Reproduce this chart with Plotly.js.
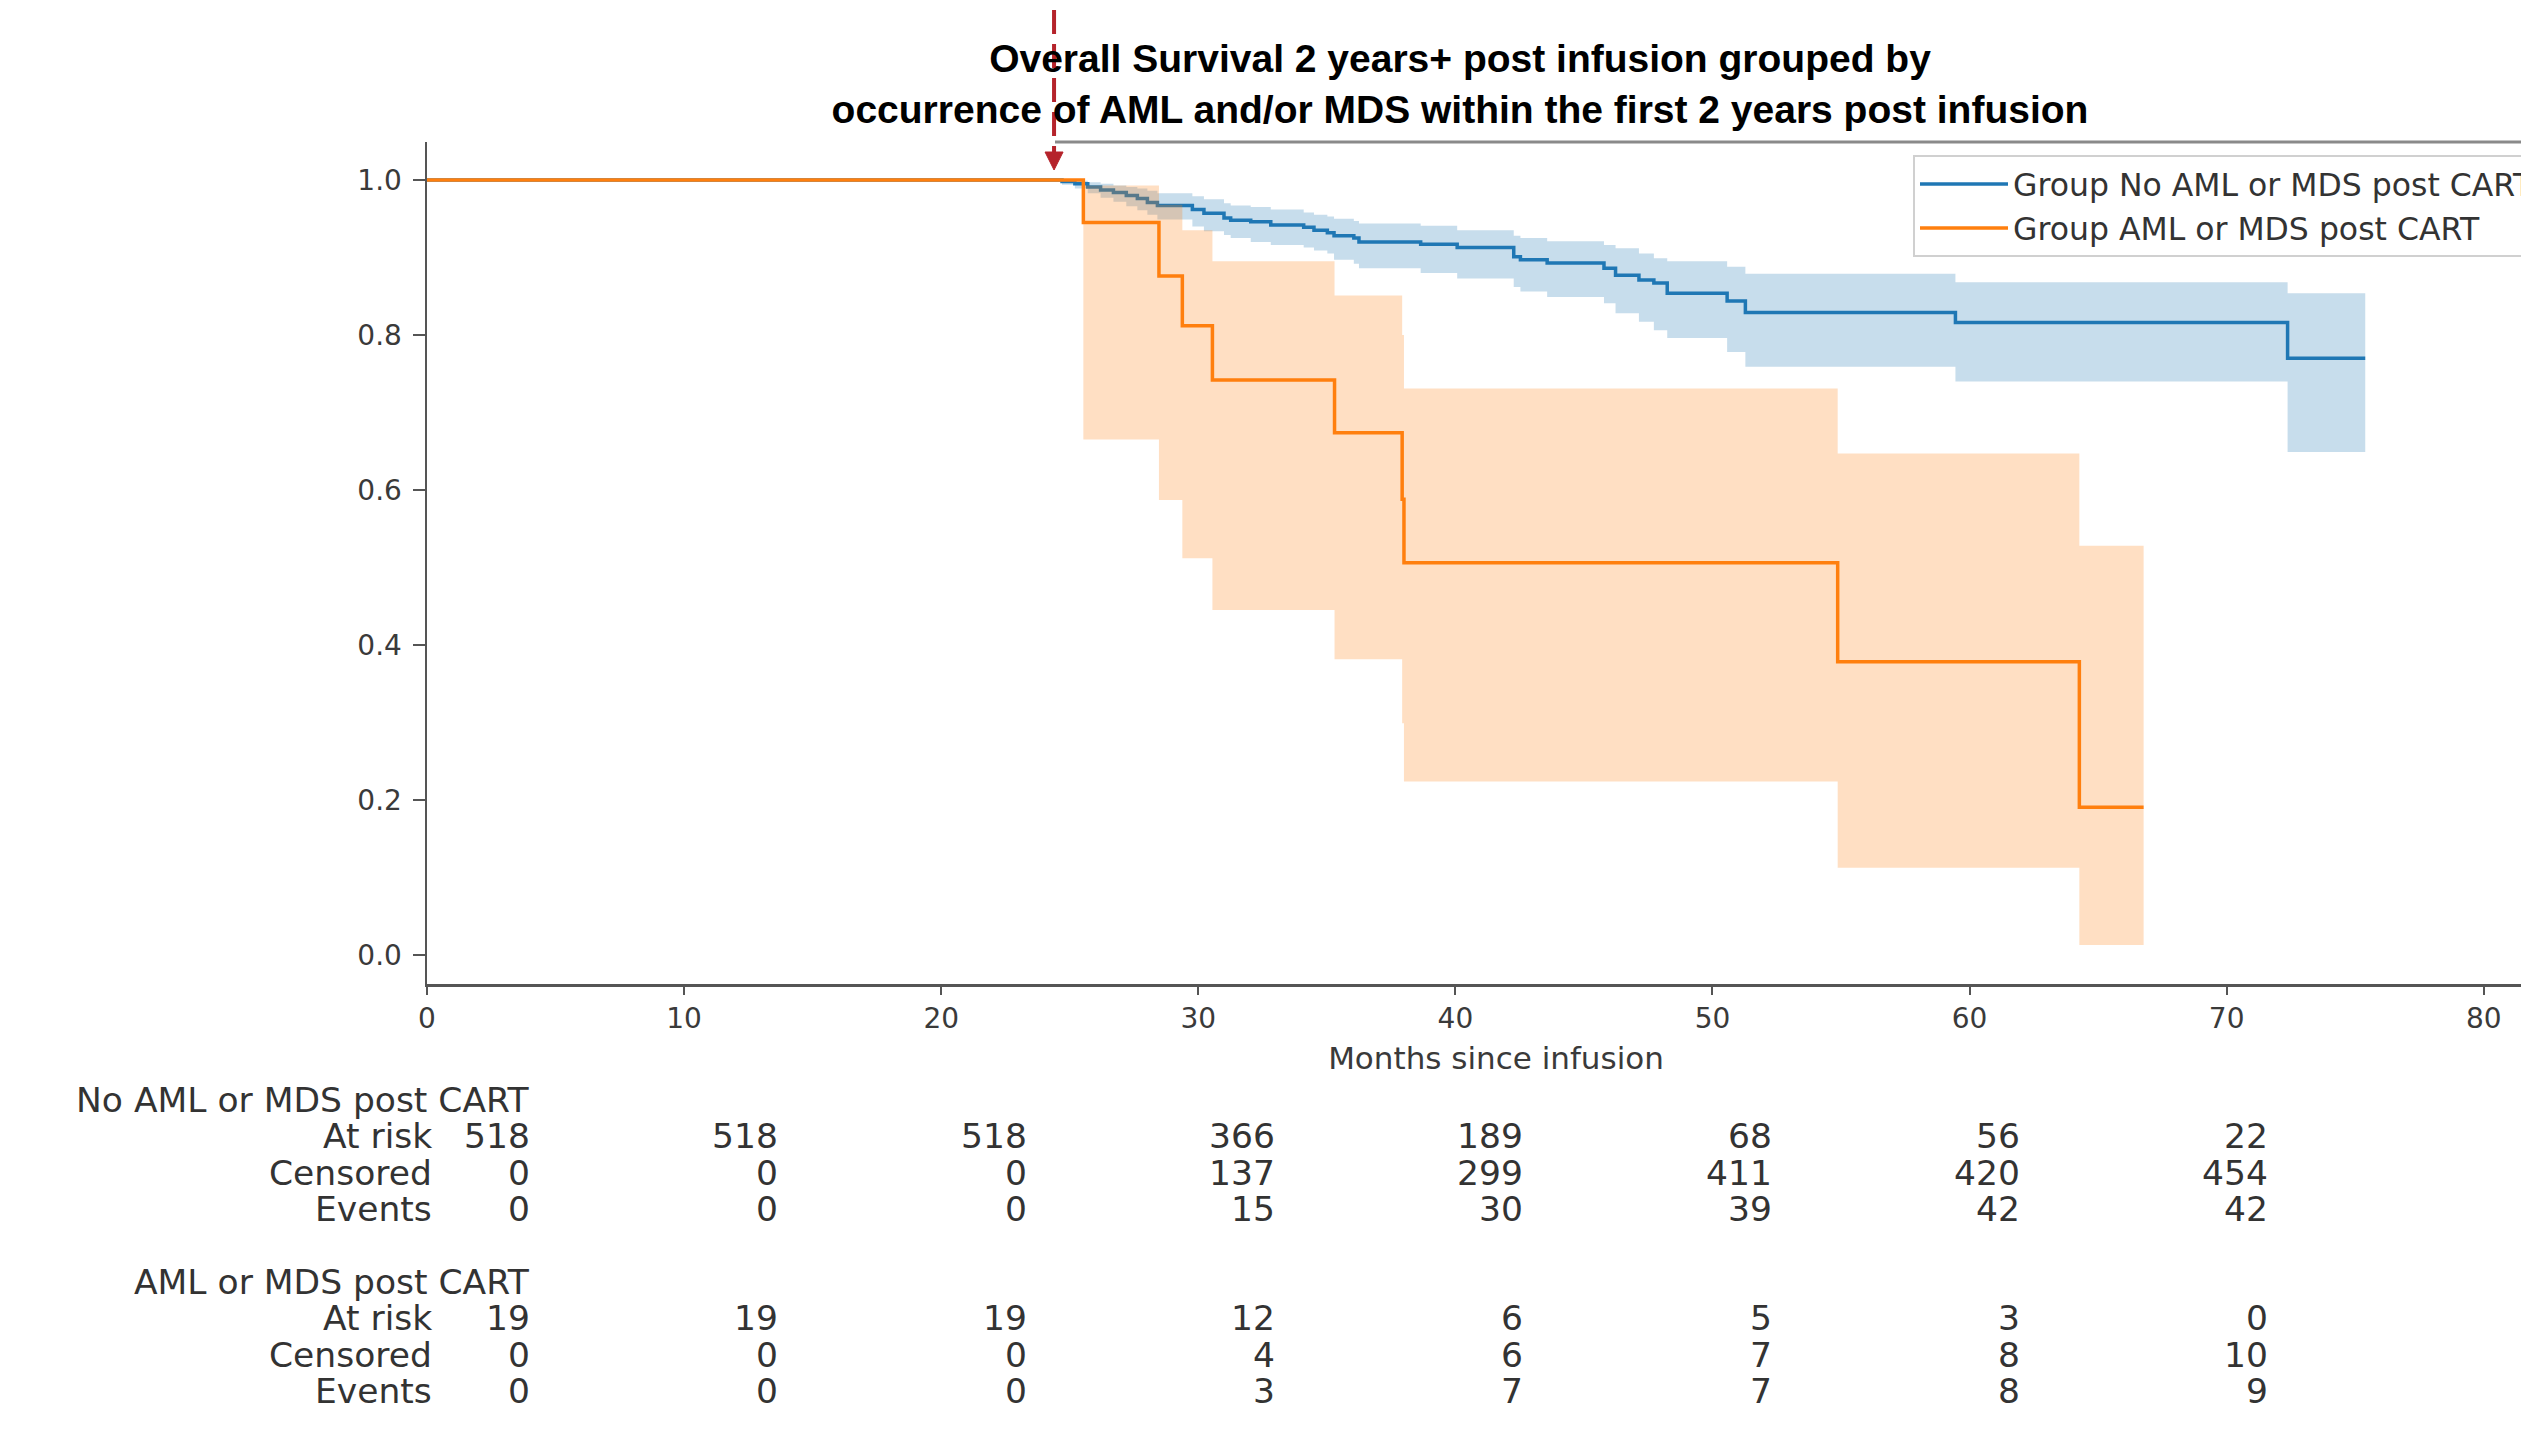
<!DOCTYPE html>
<html>
<head>
<meta charset="utf-8">
<script src="https://cdn.plot.ly/plotly-3.0.1.min.js"></script>
<style>
  html, body { margin: 0; padding: 0; overflow: hidden; background: #fff; }
  #chart { width: 2565px; height: 1432px; }
</style>
</head>
<body>
<div id="chart"></div>
<script>
// ---------------- data ----------------
// Kaplan-Meier step curve: group without AML/MDS post CART
const noAmlTimes = [0, 24.7, 25.2, 25.7, 26.2, 26.7, 27.2, 27.63, 28.02, 28.41, 29.77, 30.22, 31.0, 31.26, 32.04, 32.82, 34.1, 34.5, 35.02, 35.28, 36.05, 36.25, 38.65, 40.07, 42.27, 42.53, 43.57, 45.78, 46.23, 47.14, 47.72, 48.24, 50.57, 51.28, 59.45, 72.37, 75.39];
const noAmlSurv  = [1.0, 0.998, 0.995, 0.991, 0.987, 0.984, 0.980, 0.976, 0.971, 0.967, 0.962, 0.957, 0.951, 0.948, 0.946, 0.942, 0.939, 0.935, 0.932, 0.928, 0.925, 0.920, 0.917, 0.913, 0.901, 0.897, 0.893, 0.886, 0.877, 0.871, 0.867, 0.854, 0.844, 0.829, 0.816, 0.770, 0.770];
const noAmlUpper = [1.0, 1.0, 0.999, 0.997, 0.995, 0.993, 0.991, 0.989, 0.986, 0.983, 0.979, 0.975, 0.970, 0.967, 0.965, 0.962, 0.958, 0.955, 0.953, 0.950, 0.947, 0.944, 0.941, 0.935, 0.928, 0.925, 0.921, 0.916, 0.912, 0.905, 0.899, 0.895, 0.888, 0.879, 0.868, 0.854, 0.854];
const noAmlLower = [1.0, 0.994, 0.989, 0.983, 0.977, 0.972, 0.966, 0.961, 0.955, 0.949, 0.940, 0.934, 0.929, 0.925, 0.920, 0.916, 0.913, 0.909, 0.905, 0.897, 0.892, 0.886, 0.880, 0.873, 0.862, 0.856, 0.849, 0.841, 0.828, 0.817, 0.806, 0.796, 0.778, 0.759, 0.740, 0.649, 0.649];

// Kaplan-Meier step curve: group with AML/MDS post CART
const amlTimes = [0, 25.53, 28.47, 29.38, 30.55, 35.30, 37.93, 38.0, 54.87, 64.27, 66.77];
const amlSurv  = [1.0, 0.945, 0.876, 0.812, 0.742, 0.674, 0.588, 0.506, 0.3785, 0.1905, 0.1905];
const amlUpper = [1.0, 0.993, 0.968, 0.935, 0.895, 0.851, 0.800, 0.731, 0.647, 0.528, 0.528];
const amlLower = [1.0, 0.665, 0.587, 0.512, 0.445, 0.3815, 0.299, 0.224, 0.1127, 0.0129, 0.0129];

// At-risk table
const tableTimes = [0, 10, 20, 30, 40, 50, 60, 70];
const noAmlAtRisk   = [518, 518, 518, 366, 189, 68, 56, 22];
const noAmlCensored = [0, 0, 0, 137, 299, 411, 420, 454];
const noAmlEvents   = [0, 0, 0, 15, 30, 39, 42, 42];
const amlAtRisk   = [19, 19, 19, 12, 6, 5, 3, 0];
const amlCensored = [0, 0, 0, 4, 6, 7, 8, 10];
const amlEvents   = [0, 0, 0, 3, 7, 7, 8, 9];

const groupNames = ['No AML or MDS post CART', 'AML or MDS post CART'];
const rowLabels = ['At risk', 'Censored', 'Events'];
const xTicks = [0, 10, 20, 30, 40, 50, 60, 70, 80];
const yTicks = [0, 0.2, 0.4, 0.6, 0.8, 1.0];
const arrowMonth = 24.39;

// ---------------- layout geometry ----------------
const W = 2565, H = 1432, L = 427, R = 2565, T = 142, B = 984;
const XMAX = 83.16;
const px = X => (X - L) / (R - L);
const py = Y => (B - Y) / (B - T);

const BLUE = '#1f77b4', ORANGE = '#ff7f0e';
const BLUE_FILL = 'rgba(31,119,180,0.25)', ORANGE_FILL = 'rgba(255,127,14,0.25)';

function band(t, hi, lo, fill) {
  return [
    {x: t, y: hi, mode: 'lines', line: {shape: 'hv', width: 0, color: fill}, showlegend: false, hoverinfo: 'skip'},
    {x: t, y: lo, mode: 'lines', line: {shape: 'hv', width: 0, color: fill}, fill: 'tonexty', fillcolor: fill, showlegend: false, hoverinfo: 'skip'}
  ];
}

const traces = [
  ...band(noAmlTimes, noAmlUpper, noAmlLower, BLUE_FILL),
  {x: noAmlTimes, y: noAmlSurv, mode: 'lines', name: 'Group No AML or MDS post CART', line: {shape: 'hv', width: 3.5, color: BLUE}},
  ...band(amlTimes, amlUpper, amlLower, ORANGE_FILL),
  {x: amlTimes, y: amlSurv, mode: 'lines', name: 'Group AML or MDS post CART', line: {shape: 'hv', width: 3.5, color: ORANGE}}
];

// ---------------- at-risk table annotations ----------------
const annotations = [];
const tFont = {family: 'DejaVu Sans', size: 34.5, color: '#333333'};
const colRight = i => 532 + i * 248.3;
function addGroup(name, rows, yStart) {
  annotations.push({xref: 'paper', yref: 'paper', x: px(532), y: py(yStart), xanchor: 'right', yanchor: 'middle', text: name, showarrow: false, font: tFont});
  rows.forEach((vals, r) => {
    const Y = yStart + 36.3 * (r + 1);
    annotations.push({xref: 'paper', yref: 'paper', x: px(434), y: py(Y), xanchor: 'right', yanchor: 'middle', text: rowLabels[r], showarrow: false, font: tFont});
    vals.forEach((v, i) => {
      annotations.push({xref: 'paper', yref: 'paper', x: px(colRight(i)), y: py(Y), xanchor: 'right', yanchor: 'middle', text: String(v), showarrow: false, font: tFont});
    });
  });
}
addGroup(groupNames[0], [noAmlAtRisk, noAmlCensored, noAmlEvents], 1100);
addGroup(groupNames[1], [amlAtRisk, amlCensored, amlEvents], 1282);

// ---------------- shapes: top frame piece, red dashed arrow ----------------
const ax = L + arrowMonth * (R - L) / XMAX;
const shapes = [
  {type: 'line', xref: 'paper', yref: 'paper', x0: px(1055), x1: 1, y0: 1, y1: 1, line: {color: '#8a8a8a', width: 3}, layer: 'above'},
  {type: 'line', xref: 'paper', yref: 'paper', x0: px(ax), x1: px(ax), y0: py(10), y1: py(154), line: {color: '#b5232b', width: 4, dash: '24px,10px'}, layer: 'above'},
  {type: 'path', xref: 'paper', yref: 'paper',
   path: `M ${px(ax - 9)},${py(152)} L ${px(ax + 9)},${py(152)} L ${px(ax)},${py(170)} Z`,
   fillcolor: '#b5232b', line: {color: '#b5232b', width: 1}, layer: 'above'}
];

const tickFont = {family: 'DejaVu Sans', size: 28, color: '#3a3a3a'};
const layout = {
  width: W, height: H,
  margin: {l: L, r: W - R, t: T, b: H - B, autoexpand: false},
  paper_bgcolor: '#ffffff', plot_bgcolor: '#ffffff',
  title: {
    text: '<b>Overall Survival 2 years+ post infusion grouped by<br>occurrence of AML and/or MDS within the first 2 years post infusion</b>',
    font: {family: 'Liberation Sans, Arial', size: 39, color: '#000000'},
    xref: 'container', yref: 'container', x: 1460 / W, xanchor: 'center', y: 1 - 72 / H, yanchor: 'top'
  },
  xaxis: {
    range: [0, XMAX], tickvals: xTicks, ticktext: xTicks.map(String),
    showgrid: false, zeroline: false, showline: true, linecolor: '#555555', linewidth: 2.5,
    ticks: 'outside', ticklen: 8, tickwidth: 2, tickcolor: '#555555', tickfont: tickFont,
    title: {text: 'Months since infusion', font: {family: 'DejaVu Sans', size: 31, color: '#3a3a3a'}, standoff: 13}
  },
  yaxis: {
    range: [-0.0374, 1.049], tickvals: yTicks, ticktext: yTicks.map(v => v.toFixed(1)),
    showgrid: false, zeroline: false, showline: true, linecolor: '#555555', linewidth: 2.5,
    ticks: 'outside', ticklen: 12, tickwidth: 2, tickcolor: '#555555', tickfont: tickFont,
    ticklabelstandoff: 5
  },
  showlegend: true,
  legend: {
    x: px(1913), y: py(155), xanchor: 'left', yanchor: 'top', traceorder: 'normal',
    bgcolor: 'rgba(255,255,255,0.85)', bordercolor: '#d0d0d0', borderwidth: 2,
    font: {family: 'DejaVu Sans', size: 31.5, color: '#333333'},
    itemwidth: 88, tracegroupgap: 0
  },
  shapes: shapes,
  annotations: annotations
};

Plotly.newPlot('chart', traces, layout, {displayModeBar: false, staticPlot: true});
</script>
</body>
</html>
